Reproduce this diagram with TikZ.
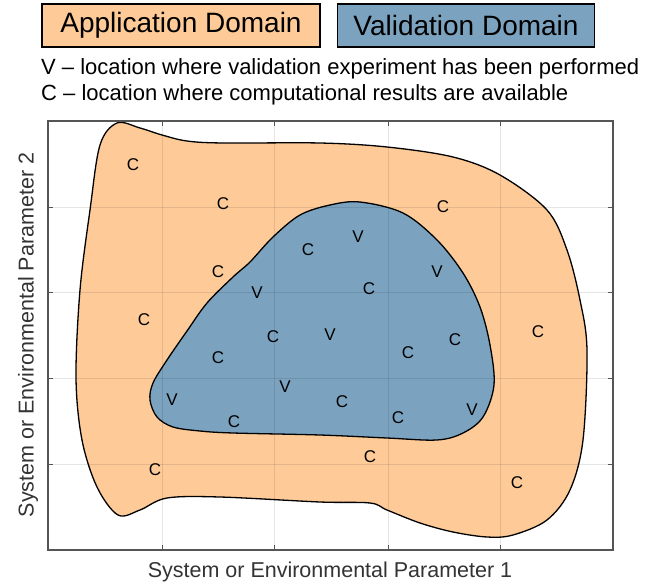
\documentclass[tikz,border=0pt]{standalone}
\usepackage{fontspec}
\setmainfont{Liberation Sans}
\usetikzlibrary{positioning}
\definecolor{appcol}{RGB}{253,202,152}
\definecolor{valcol}{RGB}{123,163,191}
\definecolor{axiscol}{RGB}{85,85,85}

\begin{document}
\begin{tikzpicture}[x=1pt,y=-1pt,
  legendbox/.style={draw=black,line width=1.5pt,minimum height=43pt,inner sep=0pt,
    font=\fontsize{28}{30}\selectfont},
  keyline/.style={anchor=base west,inner sep=0pt,font=\fontsize{22}{24}\selectfont},
  axislabel/.style={inner sep=0pt,text=black!80,font=\fontsize{21.5}{23}\selectfont},
  spot/.style={inner sep=0pt,font=\fontsize{17}{18}\selectfont},
  border/.style={draw=black,line width=1.3pt}]
  \useasboundingbox (0,0) rectangle (648,583);

  % legend
  \node[legendbox,fill=appcol,minimum width=278pt] (appbox) at (181,25.5) {Application Domain};
  \node[legendbox,fill=valcol,minimum width=257pt,right=16pt of appbox] (valbox) {Validation Domain};
  \node[keyline] (keyv) at (41,75) {V -- location where validation experiment has been performed};
  \node[keyline] (keyc) at (41,101) {C -- location where computational results are available};

  % application domain
  \path[border,fill=appcol] plot[smooth cycle,tension=0.55] coordinates {
    (117,123) (140,128) (162,135) (187,141) (223,143) (320,143) (387,147)
    (453,157) (500,175) (547,210) (567,250) (580,300) (587,350) (583,440)
    (570,490) (547,520) (513,535) (487,537) (453,532) (420,523) (387,510)
    (370,503) (320,502) (220,497) (167,498) (140,510) (118,515) (97,487)
    (82,440) (76,378) (80,290) (90,210) (100,145)};

  % validation domain
  \path[border,fill=valcol] plot[smooth cycle,tension=0.55] coordinates {
    (360,202) (403,213) (437,240) (463,273) (480,307) (490,345) (494,385)
    (483,417) (463,433) (437,440) (387,438) (320,435) (233,433) (200,431)
    (173,427) (157,417) (150,400) (153,383) (167,360) (187,331) (207,303)
    (233,277) (250,262) (273,237) (300,215) (330,205)};

  % grid and ticks
  \foreach \gx in {162,274,388,500} {
    \draw[black,opacity=0.1,line width=1pt] (\gx,121) -- (\gx,550);
    \draw[axiscol,line width=1pt] (\gx,121) -- (\gx,126) (\gx,550) -- (\gx,545);
  }
  \foreach \gy in {207,292,378,464} {
    \draw[black,opacity=0.1,line width=1pt] (48,\gy) -- (613,\gy);
    \draw[axiscol,line width=1pt] (48,\gy) -- (53,\gy) (613,\gy) -- (608,\gy);
  }
  \draw[axiscol,line width=1.5pt] (48,121) rectangle (613,550);

  % axis labels
  \node[axislabel] (xlabel) at (330,572) {System or Environmental Parameter 1};
  \node[axislabel,rotate=90] (ylabel) at (28,335) {System or Environmental Parameter 2};

  % locations
  \foreach \sx/\sy/\st [count=\i] in {
    133/165/C, 223/204/C, 443/207/C, 358/237/V, 308/250/C, 437/272/V,
    218/272/C, 257/293/V, 369/289/C, 144/320/C, 538/332/C, 273/337/C,
    330/335/V, 455/340/C, 408/353/C, 218/358/C, 285/387/V, 172/400/V,
    342/402/C, 472/410/V, 398/418/C, 234/422/C, 370/457/C, 155/470/C,
    517/483/C} {
    \node[spot] (loc\i) at (\sx,\sy) {\st};
  }
\end{tikzpicture}
\end{document}
